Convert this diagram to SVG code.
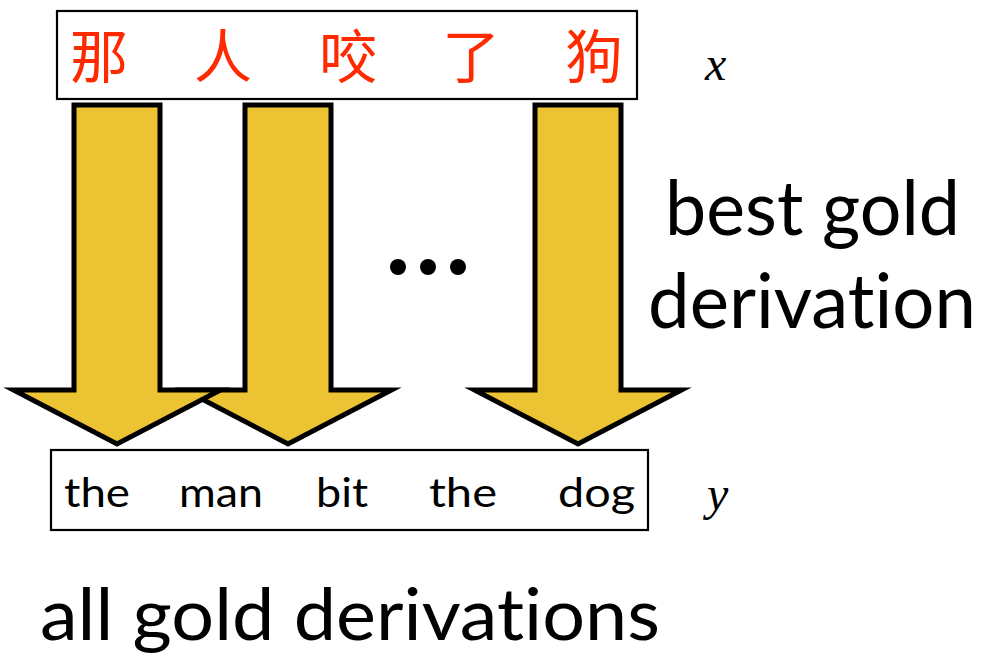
<svg xmlns="http://www.w3.org/2000/svg" xmlns:xlink="http://www.w3.org/1999/xlink" width="983" height="665" viewBox="0 0 983 665">
<style>
.box{fill:#ffffff;stroke:#000000;stroke-width:2.2}
.zh{font-family:"Noto Sans CJK SC","Noto Sans CJK TC",sans-serif;font-size:58px;fill:#ff2a00;text-anchor:middle}
.en{font-family:Lato,"Open Sans",sans-serif;fill:#000000;font-variant-ligatures:none;font-feature-settings:"liga" 0}
.math{font-family:"Liberation Serif","DejaVu Serif",serif;font-style:italic;font-size:48px;fill:#000000}
.arrow{fill:#ecc332;stroke:#000000;stroke-width:5;stroke-linejoin:miter;stroke-miterlimit:10}
</style>
<defs>
<path id="arr" d="M -43,105 H 43 V 390 H 103.5 L 0,444 L -103.5,390 H -43 Z"/>
</defs>
<rect width="983" height="665" fill="#ffffff"/>
<g id="source">
<rect class="box" x="57" y="11" width="580" height="88"/>
<text class="zh" x="99" y="78">那</text>
<text class="zh" x="223" y="78">人</text>
<text class="zh" x="348" y="78">咬</text>
<text class="zh" x="471" y="78">了</text>
<text class="zh" x="594" y="78">狗</text>
</g>
<g id="label-x"><text class="math" x="705" y="80">x</text></g>
<g id="connectors">
<use href="#arr" xlink:href="#arr" class="arrow" transform="translate(578,0)"/>
<use href="#arr" xlink:href="#arr" class="arrow" transform="translate(288,0)"/>
<use href="#arr" xlink:href="#arr" class="arrow" transform="translate(117,0)"/>
</g>
<g id="ellipsis">
<circle cx="398" cy="267" r="8" fill="#000"/>
<circle cx="428" cy="267" r="8" fill="#000"/>
<circle cx="458" cy="267" r="8" fill="#000"/>
</g>
<g id="best-label">
<text class="en" x="665" y="235" font-size="75" textLength="295" lengthAdjust="spacingAndGlyphs">best gold</text>
<text class="en" x="648" y="328" font-size="75" textLength="328" lengthAdjust="spacingAndGlyphs">derivation</text>
</g>
<g id="target">
<rect class="box" x="51" y="450" width="597" height="80" stroke-width="2.5"/>
<text class="en" x="64" y="507" font-size="41" textLength="66" lengthAdjust="spacingAndGlyphs">the</text>
<text class="en" x="179" y="507" font-size="41" textLength="84" lengthAdjust="spacingAndGlyphs">man</text>
<text class="en" x="316" y="507" font-size="41" textLength="52" lengthAdjust="spacingAndGlyphs">bit</text>
<text class="en" x="429" y="507" font-size="41" textLength="68" lengthAdjust="spacingAndGlyphs">the</text>
<text class="en" x="558" y="507" font-size="41" textLength="77" lengthAdjust="spacingAndGlyphs">dog</text>
</g>
<g id="label-y"><text class="math" x="707" y="510">y</text></g>
<g id="all-label">
<text class="en" x="40" y="640" font-size="72" textLength="620" lengthAdjust="spacingAndGlyphs">all gold derivations</text>
</g>
</svg>
